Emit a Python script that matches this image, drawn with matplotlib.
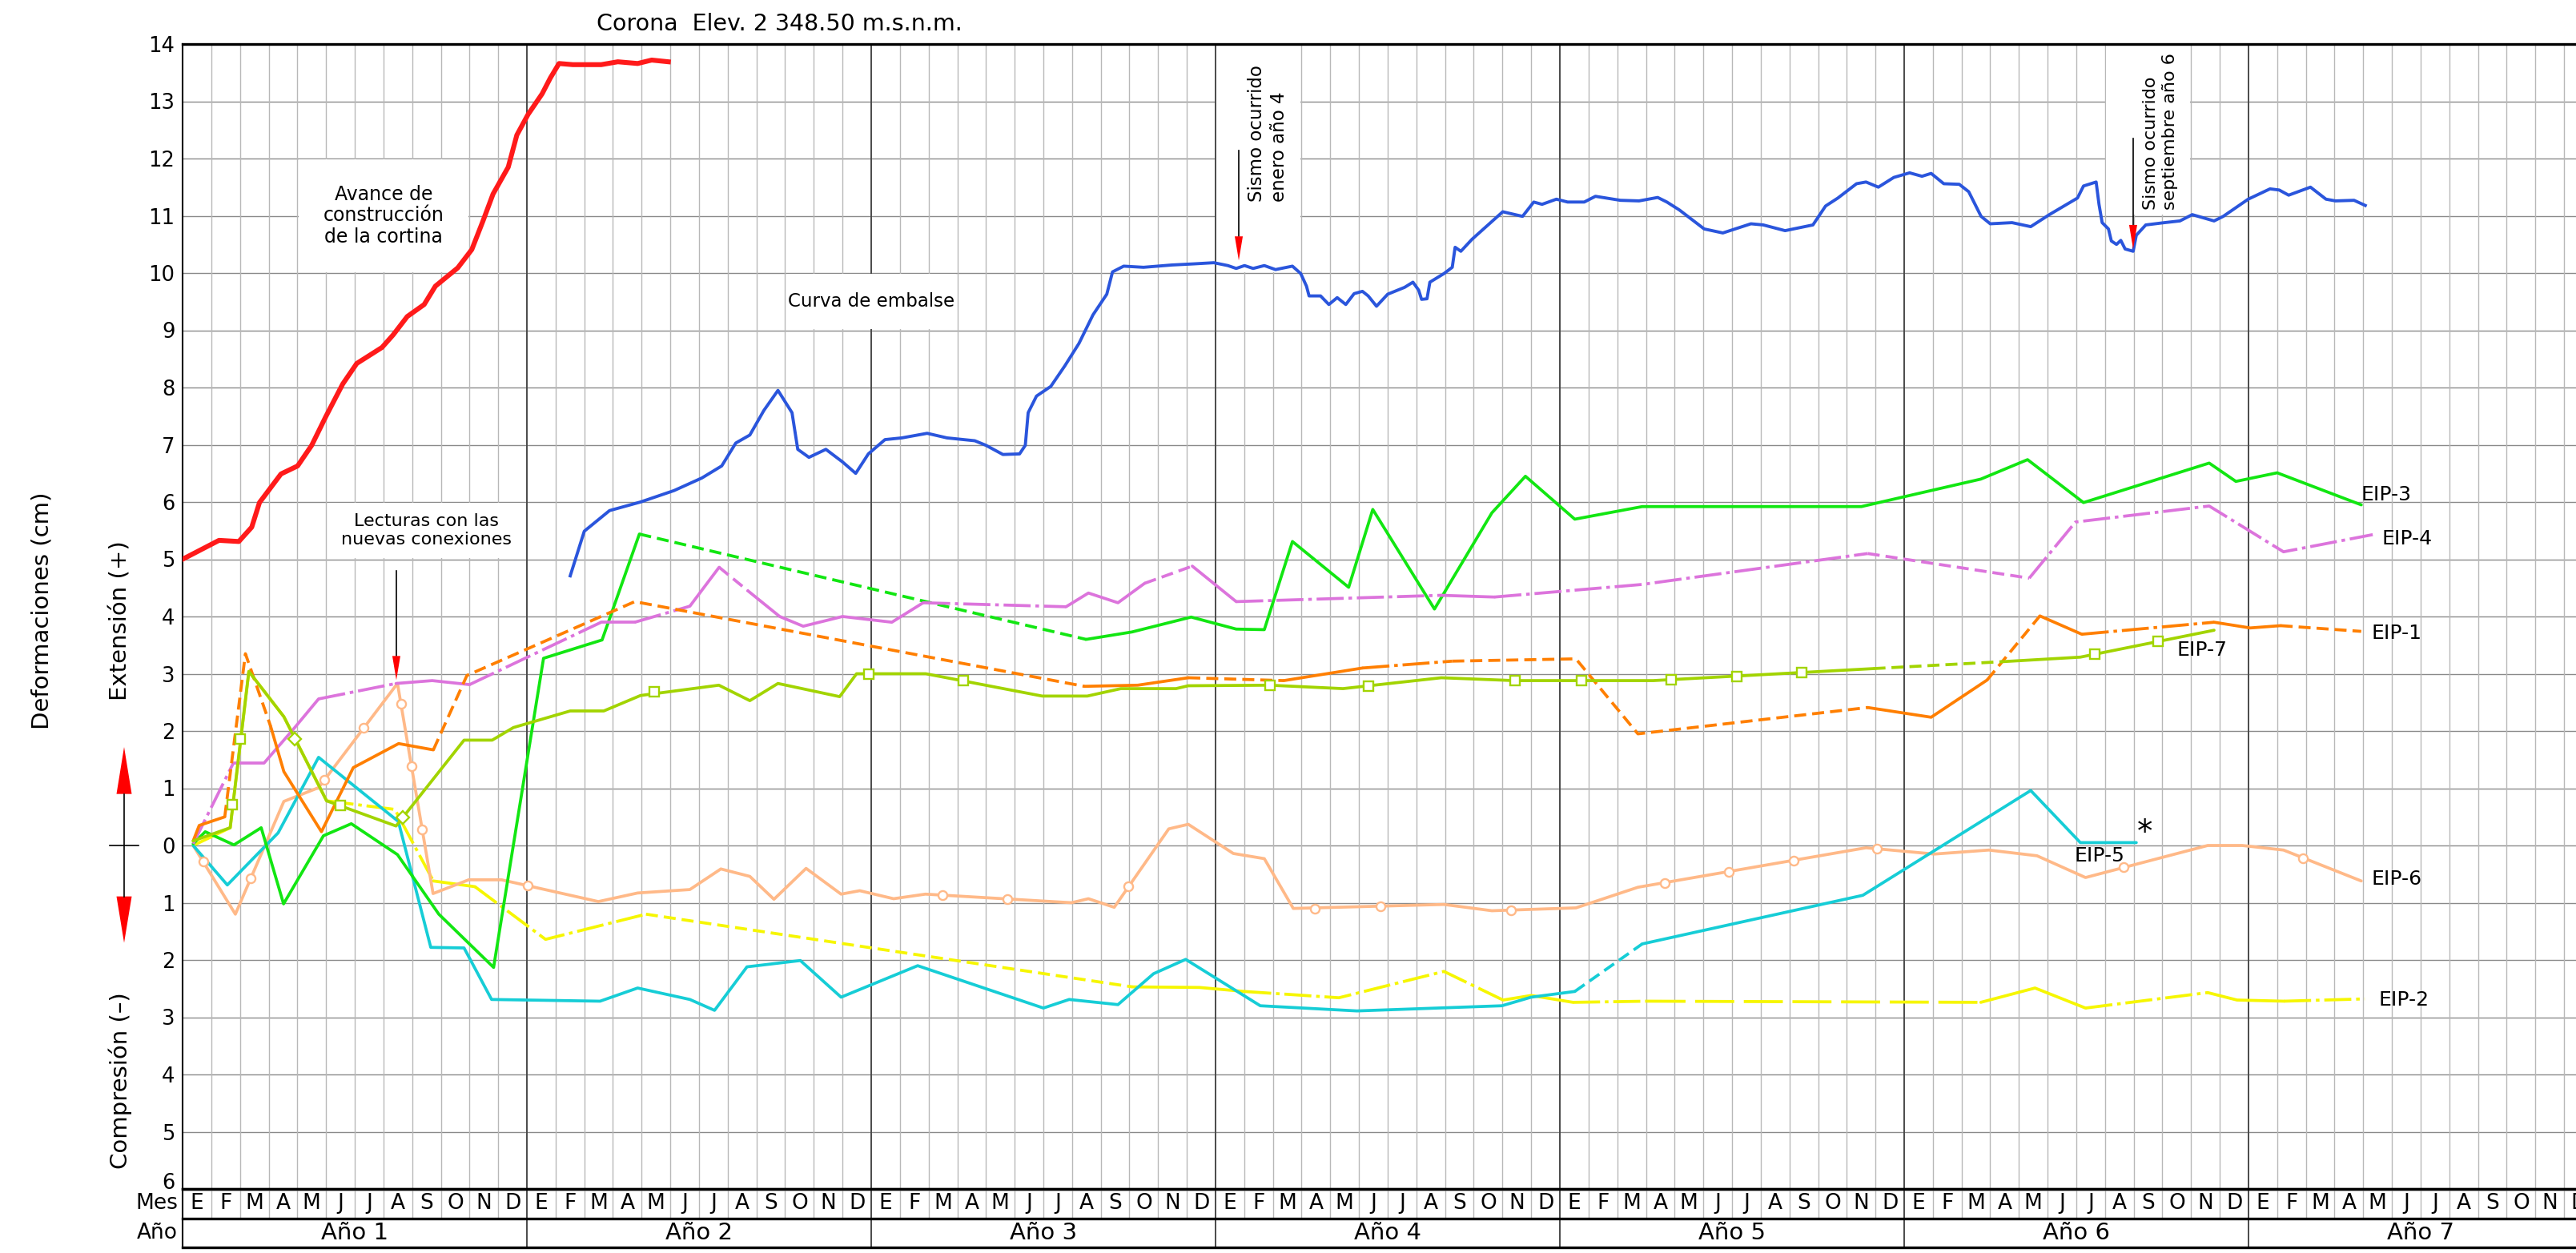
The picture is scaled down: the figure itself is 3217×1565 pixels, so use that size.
import matplotlib
matplotlib.use("Agg")
import matplotlib.pyplot as plt
from matplotlib.patches import Rectangle, Polygon
from matplotlib.transforms import blended_transform_factory

# ---- datos (x en meses desde enero del año 1, y en cm) ----
meses = ["E", "F", "M", "A", "M", "J", "J", "A", "S", "O", "N", "D"]
anios = ["Año 1", "Año 2", "Año 3", "Año 4", "Año 5", "Año 6", "Año 7"]

# avance de construcción de la cortina
cort_x = [0, 1.27, 1.96, 2.41, 2.68, 3.43, 4.01, 4.5, 4.99, 5.58, 6.07, 6.95, 7.34, 7.83, 8.42,
          8.81, 9.59, 10.08, 10.47, 10.82, 11.35, 11.65, 12.04, 12.53, 12.82, 13.12, 13.6,
          14.59, 15.17, 15.86, 16.35, 16.93]
cort_y = [5.0, 5.33, 5.31, 5.56, 5.99, 6.49, 6.63, 6.99, 7.49, 8.06, 8.42, 8.70, 8.92, 9.24, 9.45,
          9.77, 10.09, 10.41, 10.91, 11.38, 11.85, 12.41, 12.77, 13.13, 13.41, 13.66, 13.64,
          13.64, 13.69, 13.66, 13.72, 13.69]

# curva de embalse
emb_x = [13.51, 14.0, 14.88, 15.96, 17.13, 18.1, 18.79, 19.28, 19.77, 20.26, 20.75, 21.24, 21.44,
         21.83, 22.42, 23.0, 23.46, 23.9, 24.48, 25.07, 25.95, 26.64, 27.61, 28.0, 28.59, 29.17,
         29.37, 29.47, 29.76, 30.26, 30.75, 31.24, 31.73, 32.21, 32.41, 32.8, 33.49, 34.47, 35.25,
         35.94, 36.43, 36.72, 37.01, 37.31, 37.7, 38.09, 38.68, 38.97, 39.17, 39.26, 39.66, 39.95,
         40.24, 40.54, 40.83, 41.12, 41.32, 41.61, 42.0, 42.59, 42.88, 43.08, 43.18, 43.37, 43.47,
         43.96, 44.25, 44.35, 44.55, 44.94, 45.43, 46.01, 46.7, 47.09, 47.38, 47.88, 48.27, 48.85,
         49.24, 50.11, 50.76, 51.41, 51.73, 52.17, 53.03, 53.68, 54.66, 55.09, 55.85, 56.82, 57.26,
         57.69, 58.34, 58.67, 59.1, 59.64, 60.19, 60.62, 60.94, 61.38, 61.92, 62.25, 62.68, 63.0,
         63.76, 64.41, 65.06, 66.04, 66.25, 66.69, 66.79, 66.9, 67.12, 67.22, 67.4, 67.55, 67.7,
         67.98, 68.09, 68.42, 69.07, 69.61, 70.04, 70.8, 71.12, 71.99, 72.75, 73.07, 73.4, 74.16,
         74.7, 75.03, 75.68, 76.07]
emb_y = [4.71, 5.49, 5.85, 6.0, 6.20, 6.42, 6.63, 7.03, 7.17, 7.60, 7.95, 7.56, 6.92,
         6.78, 6.92, 6.70, 6.50, 6.84, 7.09, 7.12, 7.2, 7.12, 7.07, 6.99, 6.83, 6.84,
         6.99, 7.56, 7.85, 8.02, 8.38, 8.77, 9.27, 9.63, 10.02, 10.12, 10.10, 10.14, 10.16,
         10.18, 10.13, 10.08, 10.13, 10.08, 10.13, 10.06, 10.12, 9.99, 9.77, 9.60, 9.60, 9.45,
         9.57, 9.45, 9.64, 9.68, 9.60, 9.42, 9.63, 9.75, 9.84, 9.70, 9.54, 9.55, 9.84,
         9.99, 10.10, 10.45, 10.38, 10.59, 10.81, 11.07, 10.99, 11.24, 11.20, 11.29, 11.24, 11.24,
         11.34, 11.27, 11.26, 11.32, 11.24, 11.10, 10.77, 10.70, 10.86, 10.84, 10.74, 10.84, 11.17,
         11.31, 11.56, 11.59, 11.50, 11.67, 11.75, 11.69, 11.74, 11.56, 11.55, 11.42, 10.99, 10.86,
         10.88, 10.81, 11.02, 11.31, 11.52, 11.59, 11.20, 10.88, 10.77, 10.56, 10.5, 10.57, 10.42,
         10.38, 10.66, 10.84, 10.88, 10.91, 11.02, 10.91, 10.99, 11.29, 11.47, 11.45, 11.36, 11.50,
         11.29, 11.26, 11.27, 11.18]

# extensómetros; tramo: s continuo, d discontinuo, c trazo y punto, l trazo largo
eip1_x = [0.37, 0.58, 1.47, 2.19, 3.07, 3.53, 4.84, 5.95, 7.53, 8.74, 9.91, 15.76, 31.43, 33.29,
          35.05, 38.38, 41.12, 44.25, 48.56, 50.72, 58.73, 60.94, 62.89, 64.73, 66.19, 70.8,
          72.06, 73.12, 75.93]
eip1_y = [0.08, 0.35, 0.50, 3.35, 2.08, 1.29, 0.24, 1.36, 1.78, 1.67, 2.97, 4.26, 2.78, 2.80,
          2.93, 2.88, 3.10, 3.22, 3.26, 1.95, 2.41, 2.24, 2.89, 4.01, 3.69, 3.90,
          3.80, 3.84, 3.74]
eip1_t = "ssddsssssdddssdscdddssdscssd"

eip2_x = [0.37, 1.66, 2.31, 3.53, 5.02, 7.4, 8.74, 10.19, 12.65, 16.15, 33.1, 35.44, 37.0, 40.3,
          43.96, 46.02, 47.0, 48.46, 51.02, 62.67, 64.56, 66.32, 70.58, 71.6, 73.24, 76.05]
eip2_y = [0.0, 0.31, 3.04, 2.25, 0.78, 0.63, -0.62, -0.72, -1.64, -1.2, -2.47, -2.48, -2.55, -2.66,
          -2.20, -2.70, -2.62, -2.74, -2.72, -2.74, -2.49, -2.84, -2.57, -2.70, -2.72, -2.68]
eip2_t = "sssscc" + "s" + "cc" + "d" + "ss" + "ccc" + "ss" + "c" + "l" + "ss" + "c" + "ss" + "c"

eip3_x = [0.37, 0.79, 1.79, 2.74, 3.52, 4.91, 5.88, 7.49, 8.93, 10.84, 12.58, 14.62, 15.92, 31.49,
          33.09, 35.15, 36.72, 37.7, 38.68, 40.64, 41.48, 43.63, 45.63, 46.8, 48.52, 50.87, 58.51,
          62.67, 64.3, 66.25, 70.63, 71.56, 73.0, 75.93]
eip3_y = [0.03, 0.24, 0.01, 0.31, -1.02, 0.17, 0.38, -0.16, -1.20, -2.13, 3.27, 3.59, 5.44, 3.60,
          3.73, 3.99, 3.78, 3.77, 5.31, 4.51, 5.87, 4.13, 5.81, 6.45, 5.70, 5.92, 5.92,
          6.40, 6.74, 5.99, 6.68, 6.36, 6.51, 5.95]
eip3_t = "s" * 12 + "d" + "s" * 20

eip4_x = [0.37, 1.77, 2.84, 3.91, 4.74, 7.44, 8.7, 10.0, 14.59, 15.76, 17.68, 18.7, 19.7, 20.81,
          21.63, 23.0, 24.72, 25.81, 30.79, 31.57, 32.6, 33.53, 35.19, 36.72, 43.86, 45.72, 50.87,
          58.73, 64.36, 65.97, 70.63, 73.22, 76.33]
eip4_y = [0.03, 1.44, 1.44, 2.06, 2.56, 2.83, 2.88, 2.81, 3.90, 3.90, 4.18, 4.86, 4.45, 4.0,
          3.83, 4.0, 3.9, 4.24, 4.17, 4.41, 4.24, 4.58, 4.88, 4.26, 4.37, 4.34, 4.56,
          5.10, 4.67, 5.65, 5.93, 5.13, 5.43]
eip4_t = "csssc" + "ssc" + "sc" + "sd" + "sssss" + "c" + "sss" + "d" + "s" + "c" + "s" + "cc" + "d" + "cccc"

eip5_x = [0.37, 1.56, 3.33, 4.74, 7.52, 8.65, 9.81, 10.77, 14.55, 15.86, 17.68, 18.54, 19.67, 21.53,
          22.95, 25.62, 30.0, 30.9, 32.6, 33.84, 34.96, 37.56, 40.93, 45.98, 47.0, 48.52, 50.87,
          58.56, 64.41, 66.14, 68.09]
eip5_y = [0.0, -0.69, 0.22, 1.54, 0.42, -1.78, -1.79, -2.69, -2.72, -2.49, -2.69, -2.88, -2.12, -2.01,
          -2.65, -2.1, -2.84, -2.69, -2.78, -2.24, -1.99, -2.80, -2.89, -2.80, -2.65, -2.55, -1.72,
          -0.87, 0.96, 0.05, 0.05]
eip5_t = "s" * 25 + "d" + "s" * 4

eip6_x = [0.37, 1.84, 3.53, 4.74, 7.49, 8.73, 9.97, 11.12, 14.49, 15.86, 17.68, 18.76, 19.77, 20.61,
          21.73, 22.95, 23.6, 24.78, 25.89, 30.98, 31.57, 32.47, 34.37, 35.05, 36.62, 37.7, 38.71,
          43.96, 45.63, 48.56, 50.72, 58.67, 61.05, 62.95, 64.63, 66.32, 70.58, 71.78, 73.22, 75.93]
eip6_y = [0.0, -1.2, 0.77, 1.01, 2.83, -0.84, -0.60, -0.60, -0.98, -0.83, -0.77, -0.41, -0.54, -0.94,
          -0.40, -0.85, -0.79, -0.93, -0.85, -1.0, -0.93, -1.08, 0.29, 0.37, -0.14, -0.23, -1.10,
          -1.03, -1.14, -1.09, -0.73, -0.04, -0.15, -0.08, -0.18, -0.56, 0.0, 0.0, -0.08, -0.62]
eip6_t = "s" * 39
eip6_mx = [0.73, 2.37, 4.93, 6.31, 7.61, 7.98, 8.35, 12.02, 26.48, 28.75, 32.96, 39.46, 41.75,
           46.31, 51.66, 53.9, 56.14, 59.04, 67.66, 73.9]
eip6_my = [-0.28, -0.57, 1.14, 2.05, 2.48, 1.39, 0.28, -0.70, -0.87, -0.94, -0.72, -1.10, -1.06,
           -1.13, -0.66, -0.46, -0.27, -0.06, -0.38, -0.22]

eip7_x = [0.37, 1.66, 2.31, 3.53, 5.02, 7.44, 9.81, 10.79, 11.53, 13.51, 14.68, 15.96, 18.69, 19.77,
          20.75, 22.9, 23.49, 25.9, 29.96, 31.53, 32.7, 34.62, 35.05, 37.89, 40.44, 43.87, 46.41,
          51.25, 58.93, 63.39, 66.14, 70.8]
eip7_y = [0.08, 0.31, 3.04, 2.25, 0.78, 0.34, 1.84, 1.84, 2.06, 2.35, 2.35, 2.62, 2.80, 2.53,
          2.83, 2.60, 3.0, 3.0, 2.61, 2.61, 2.74, 2.74, 2.79, 2.80, 2.74, 2.93, 2.88,
          2.88, 3.09, 3.21, 3.29, 3.76]
eip7_t = "s" * 28 + "d" + "ss"
eip7_mx = [1.73, 2.0, 5.49, 16.44, 23.93, 27.22, 37.89, 41.32, 46.45, 48.76, 51.89, 54.18, 56.44,
           66.64, 68.85]
eip7_my = [0.72, 1.86, 0.70, 2.68, 3.0, 2.88, 2.80, 2.79, 2.88, 2.88, 2.89, 2.95, 3.02, 3.34, 3.56]
eip7_dx = [3.91, 7.67]
eip7_dy = [1.86, 0.49]

# etiquetas de los extensómetros
etq_txt = ["EIP-3", "EIP-4", "EIP-1", "EIP-7", "EIP-5", "EIP-6", "EIP-2"]
etq_x = [75.93, 76.65, 76.28, 69.5, 65.92, 76.28, 76.54]
etq_y = [6.13, 5.36, 3.70, 3.41, -0.18, -0.59, -2.70]

# flechas de eventos (x, inicio, punta)
fl_x = [7.45, 36.81, 67.98]
fl_top = [4.8, 12.14, 12.35]
fl_tip = [2.89, 10.22, 10.42]

W, H = 3217, 1565
MES_PX = 430 / 12
NMESES = 84
LW = 2.7

plt.rcParams["font.family"] = ["DejaVu Sans"]
fig = plt.figure(figsize=(W / 100, H / 100), dpi=100)

ax = fig.add_axes([228 / W, 1 - 1485 / H, NMESES * MES_PX / W, 1430 / H])
ax.set_xlim(0, NMESES)
ax.set_ylim(-6, 14)

# cuadrícula
for v in range(-5, 14):
    ax.axhline(v, color="#8a8a8a", lw=1.0, zorder=0.5)
for m in range(1, NMESES):
    if m % 12:
        ax.axvline(m, color="#b8b8b8", lw=1.0, zorder=0.5)
    else:
        ax.axvline(m, color="#4a4a4a", lw=1.4, zorder=0.6)

ax.set_xticks([])
ax.set_yticks(range(-5, 15))
ax.set_yticklabels([str(abs(v)) for v in range(-5, 15)], fontsize=18.5)
ax.tick_params(axis="y", length=0, pad=7)
ax.text(-0.0033, -6, "6", transform=ax.get_yaxis_transform(), ha="right", va="baseline",
        fontsize=18.5)
for s in ["top", "bottom"]:
    ax.spines[s].set_linewidth(2.4)
ax.spines["left"].set_linewidth(1.5)
ax.spines["right"].set_visible(False)

# recuadros blancos de las notas
cajas = [(4, 10, 6, 2), (21, 9, 6, 1), (5, 5, 7, 1), (36, 10, 3, 4), (67, 11, 3, 3)]
for x0, y0, w, h in cajas:
    ax.add_patch(Rectangle((x0 + 0.04, y0 + 0.02), w - 0.08, h - 0.04, facecolor="white",
                           edgecolor="none", zorder=1))

DASH = {"d": (4, 2), "c": (9, 1.6, 1.2, 1.6), "l": (13, 3.2)}


def tramo(xs, ys, tipos, color, lw, z):
    i = 0
    while i < len(tipos):
        j = i
        while j + 1 < len(tipos) and tipos[j + 1] == tipos[i]:
            j += 1
        kw = dict(color=color, lw=lw, zorder=z, solid_joinstyle="round",
                  solid_capstyle="round", dash_capstyle="butt")
        if tipos[i] == "s":
            ax.plot(xs[i:j + 2], ys[i:j + 2], "-", **kw)
        else:
            ax.plot(xs[i:j + 2], ys[i:j + 2], linestyle=(0, DASH[tipos[i]]), **kw)
        i = j + 1


ax.plot(cort_x, cort_y, color="#ff1a1a", lw=4.4, zorder=3, solid_joinstyle="round")
ax.plot(emb_x, emb_y, color="#2a55dc", lw=2.8, zorder=3, solid_joinstyle="round")

tramo(eip2_x, eip2_y, eip2_t, "#f6f600", LW, 2.0)
tramo(eip6_x, eip6_y, eip6_t, "#ffb988", LW, 2.1)
tramo(eip5_x, eip5_y, eip5_t, "#16cdd6", LW, 2.2)
tramo(eip3_x, eip3_y, eip3_t, "#12e612", LW, 2.3)
tramo(eip4_x, eip4_y, eip4_t, "#dc74dc", LW, 2.4)
tramo(eip1_x, eip1_y, eip1_t, "#ff7f00", LW, 2.5)
tramo(eip7_x, eip7_y, eip7_t, "#a2d400", LW, 2.6)

ax.plot(eip6_mx, eip6_my, "o", ms=8, mfc="white", mec="#ffb988", mew=1.7, zorder=2.7)
ax.plot(eip7_mx, eip7_my, "s", ms=8.5, mfc="white", mec="#a2d400", mew=1.7, zorder=2.8)
ax.plot(eip7_dx, eip7_dy, "D", ms=8.5, mfc="white", mec="#a2d400", mew=1.7, zorder=2.8)

for t, x, y in zip(etq_txt, etq_x, etq_y):
    ax.text(x, y, t, ha="left", va="center", fontsize=18, zorder=5)
ax.text(68.38, 0.22, "*", ha="center", va="center", fontsize=28, zorder=5)

# notas
ax.text(7.0, 11.0, "Avance de\nconstrucción\nde la cortina", ha="center", va="center",
        fontsize=17, linespacing=1.15, zorder=5)
ax.text(24.0, 9.5, "Curva de embalse", ha="center", va="center", fontsize=16.5, zorder=5)
ax.text(8.5, 5.5, "Lecturas con las\nnuevas conexiones", ha="center", va="center",
        fontsize=16, linespacing=1.2, zorder=5)
ax.text(37.82, 11.25, "Sismo ocurrido\nenero año 4", rotation=90, ha="center", va="bottom",
        multialignment="left", fontsize=16.5, linespacing=1.3, zorder=5)
ax.text(68.94, 11.11, "Sismo ocurrido\nseptiembre año 6", rotation=90, ha="center", va="bottom",
        multialignment="left", fontsize=16, linespacing=1.25, zorder=5)

# flechas negras con punta roja
for x, y0, y1 in zip(fl_x, fl_top, fl_tip):
    largo, ancho = 0.42, 0.14
    ax.plot([x, x], [y0, y1 + largo], color="black", lw=1.2, zorder=5)
    ax.add_patch(Polygon([(x - ancho, y1 + largo), (x + ancho, y1 + largo), (x, y1)],
                         closed=True, facecolor="red", edgecolor="none", zorder=5))

# flecha doble de extensión / compresión
tr = blended_transform_factory(fig.transFigure, ax.transData)
xa = 155 / W
dw = 9.5 / W
ax.plot([xa, xa], [0.9, -0.89], color="black", lw=1.2, transform=tr, clip_on=False)
ax.plot([137 / W, 173 / W], [0, 0], color="black", lw=1.2, transform=tr, clip_on=False)
for base, punta in [(0.9, 1.72), (-0.89, -1.70)]:
    ax.add_patch(Polygon([(xa - dw, base), (xa + dw, base), (xa, punta)], closed=True,
                         facecolor="red", edgecolor="none", transform=tr, clip_on=False))

# textos exteriores
fig.text(745 / W, 1 - 30 / H, "Corona  Elev. 2 348.50 m.s.n.m.", ha="left", va="center",
         fontsize=20.5)
fig.text(53 / W, 1 - 763 / H, "Deformaciones (cm)", rotation=90, ha="center", va="center",
         fontsize=21)
fig.text(151 / W, 1 - 775 / H, "Extensión (+)", rotation=90, ha="center", va="center",
         fontsize=21)
fig.text(150 / W, 1 - 1350 / H, "Compresión (–)", rotation=90, ha="center", va="center",
         fontsize=21)

# tabla de meses y años
tb = fig.add_axes([228 / W, 1 - 1558 / H, NMESES * MES_PX / W, 73 / H])
tb.set_xlim(0, NMESES)
tb.set_ylim(0, 2)
tb.axis("off")
for m in range(1, NMESES):
    if m % 12:
        tb.plot([m, m], [1, 2], color="#b8b8b8", lw=1.0)
    else:
        tb.plot([m, m], [0, 2], color="#4a4a4a", lw=1.4)
for yv in [0, 1, 2]:
    tb.plot([0, NMESES], [yv, yv], color="black", lw=2.4, clip_on=False)
tb.plot([0, 0], [0, 2], color="black", lw=1.5, clip_on=False)
for k in range(NMESES):
    tb.text(k + 0.5, 1.5, meses[k % 12], ha="center", va="center", fontsize=19)
for k, a in enumerate(anios):
    tb.text(12 * k + 6, 0.5, a, ha="center", va="center", fontsize=21)
tb.text(-0.17, 1.5, "Mes", ha="right", va="center", fontsize=19)
tb.text(-0.17, 0.5, "Año", ha="right", va="center", fontsize=19)

fig.savefig("out.png", dpi=100)
